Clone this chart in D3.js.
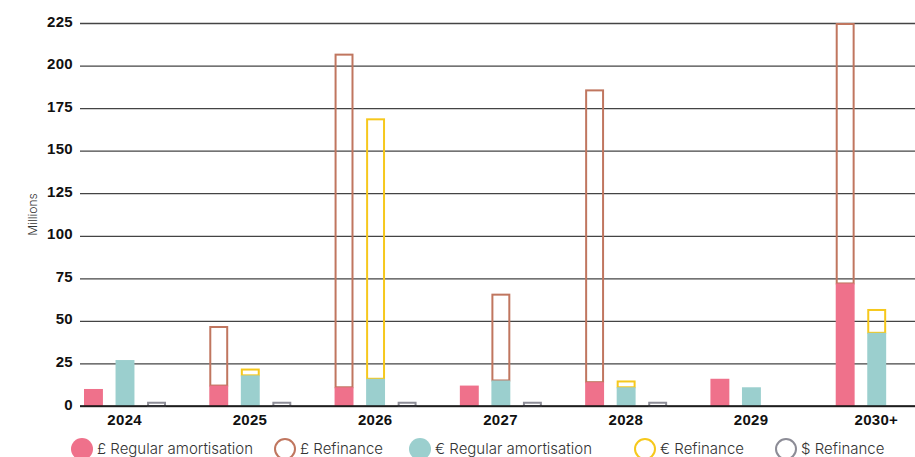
<!DOCTYPE html>
<html>
<head>
<meta charset="utf-8">
<script src="https://cdn.jsdelivr.net/npm/d3@7"></script>
<style>
  body { margin: 0; background: #fff; }
  svg { display: block; font-family: Inter, "Noto Sans", sans-serif; }
  .tick text { font-weight: 700; font-size: 15px; fill: #111; letter-spacing: 0.3px; }
  .legend text { font-size: 15px; font-weight: 300; fill: #333; }
</style>
</head>
<body>
<svg id="chart"></svg>
<script>
const years = ["2024", "2025", "2026", "2027", "2028", "2029", "2030+"];
const yTicks = [0, 25, 50, 75, 100, 125, 150, 175, 200, 225];

// values in millions
const gbpRegular   = [10, 12, 11, 12, 14, 16, 72];
const gbpRefinance = [0, 35, 196, 51, 172, 0, 153];
const eurRegular   = [27, 18, 16, 15, 11, 11, 43];
const eurRefinance = [0, 4, 153, 0, 4, 0, 14];
const usdRefinance = [2.5, 2.5, 2.5, 2.5, 2.5, 0, 0];
// the source chart draws the 2027 £ refinance on the € column
const gbpRefinanceColumn = ["£", "£", "£", "€", "£", "£", "£"];

const legendItems = [
    { name: "£ Regular amortisation", color: "#ef718b", filled: true },
    { name: "£ Refinance", color: "#c0765f", filled: false },
    { name: "€ Regular amortisation", color: "#9bcfce", filled: true },
    { name: "€ Refinance", color: "#f6c81c", filled: false },
    { name: "$ Refinance", color: "#8c8c96", filled: false }
];

const width = 915;
const height = 457;

const svg = d3.select('#chart')
    .attr('width', width)
    .attr('height', height);

const x = d3.scaleBand()
    .domain(years)
    .range([62, 939]);

const xSub = d3.scaleBand()
    .domain(["£", "€", "$"])
    .range([22, 104])
    .paddingInner(0.4);

const y = d3.scaleLinear()
    .domain([0, 225])
    .range([406, 23]);

//gridlines + y axis
const yAxis = d3.axisLeft(y)
    .tickValues(yTicks)
    .tickSize(-(width - 80))
    .tickPadding(7);
const yAxisG = svg.append('g')
    .attr('transform', 'translate(80, 0)')
    .call(yAxis);
yAxisG.select('.domain').remove();
yAxisG.selectAll('.tick line')
    .attr('stroke', '#444')
    .attr('stroke-width', 1.3);
yAxisG.selectAll('.tick text').attr('dy', '0.2em');

svg.append('text')
    .attr('transform', `translate(37, ${(y(100) + y(125)) / 2}) rotate(-90)`)
    .attr('text-anchor', 'middle')
    .attr('font-size', 12)
    .attr('font-weight', 300)
    .attr('fill', '#333')
    .text('Millions');

// build bar segments
let fills = [];
let outlines = [];
years.forEach(function (year, i) {
    fills.push({ year: year, col: "£", y0: 0, y1: gbpRegular[i], color: legendItems[0].color });
    fills.push({ year: year, col: "€", y0: 0, y1: eurRegular[i], color: legendItems[2].color });
    let gbpBase = gbpRefinanceColumn[i] === "£" ? gbpRegular[i] : eurRegular[i];
    if (gbpRefinance[i] > 0) {
        outlines.push({ year: year, col: gbpRefinanceColumn[i], y0: gbpBase, y1: gbpBase + gbpRefinance[i], color: legendItems[1].color });
    }
    if (eurRefinance[i] > 0) {
        outlines.push({ year: year, col: "€", y0: eurRegular[i], y1: eurRegular[i] + eurRefinance[i], color: legendItems[3].color });
    }
    if (usdRefinance[i] > 0) {
        outlines.push({ year: year, col: "$", y0: 0, y1: usdRefinance[i], color: legendItems[4].color });
    }
});

const bw = xSub.bandwidth();

svg.append('g').selectAll('rect')
    .data(outlines)
    .enter()
    .append('rect')
    .attr('x', d => x(d.year) + xSub(d.col) + 1)
    .attr('y', d => y(d.y1) + 1)
    .attr('width', bw - 2)
    .attr('height', d => y(d.y0) - y(d.y1) - 1)
    .attr('fill', 'none')
    .attr('stroke', d => d.color)
    .attr('stroke-width', 2);

svg.append('g').selectAll('rect')
    .data(fills)
    .enter()
    .append('rect')
    .attr('x', d => x(d.year) + xSub(d.col))
    .attr('y', d => y(d.y1))
    .attr('width', bw)
    .attr('height', d => y(d.y0) - y(d.y1))
    .attr('fill', d => d.color);

// zero line on top
svg.append('line')
    .attr('x1', 80)
    .attr('x2', width)
    .attr('y1', y(0))
    .attr('y2', y(0))
    .attr('stroke', '#111')
    .attr('stroke-width', 1.5);

//x axis labels
const xAxis = d3.axisBottom(x).tickSize(0).tickPadding(8);
const xAxisG = svg.append('g')
    .attr('transform', `translate(0, ${y(0)})`)
    .call(xAxis);
xAxisG.select('.domain').remove();

//legend
const legendX = [82, 285, 420, 645, 786];
const legend = svg.append('g').attr('class', 'legend');
legendItems.forEach(function (item, i) {
    legend.append('circle')
        .attr('cx', legendX[i])
        .attr('cy', 449)
        .attr('r', item.filled ? 11 : 10)
        .attr('fill', item.filled ? item.color : 'none')
        .attr('stroke', item.filled ? 'none' : item.color)
        .attr('stroke-width', 2);
    legend.append('text')
        .attr('x', legendX[i] + 15)
        .attr('y', 454)
        .text(item.name);
});
</script>
</body>
</html>
